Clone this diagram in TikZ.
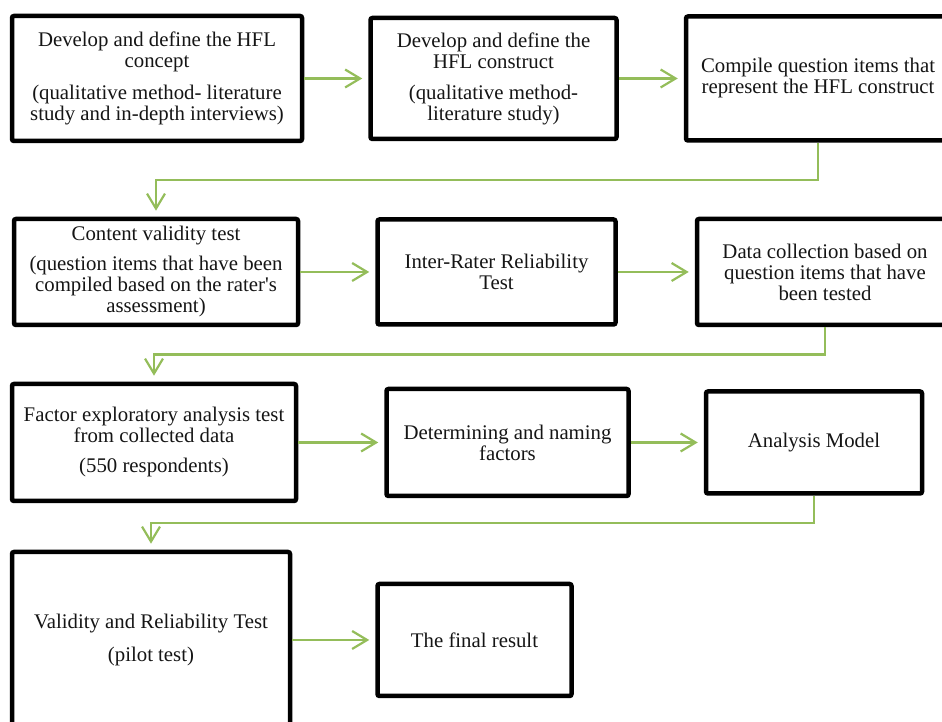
\documentclass[tikz,border=0pt]{standalone}
\usepackage{fontspec}
\setmainfont{Liberation Serif}
\usepackage{xcolor}
\definecolor{flowgreen}{HTML}{94BD5A}
\definecolor{inkblack}{HTML}{151515}
\usepackage{tikz}
\usetikzlibrary{arrows.meta, positioning, calc}

\begin{document}
\begin{tikzpicture}[x=1pt, y=1pt,
  stagebox/.style={draw=black, line width=4.5pt, rounded corners=2pt,
    fill=white, align=center, inner sep=3pt, text=inkblack,
    font=\fontsize{20.8}{21}\selectfont},
  flow/.style={->, draw=flowgreen, line width=2.2pt, shorten >=6pt},
  >={Straight Barb[length=15pt,width=18pt]}]

  \useasboundingbox (0,0) rectangle (942,722);
  \clip (0,0) rectangle (942,722);

  % row 1
  \node[stagebox, minimum width=290pt, minimum height=125pt] (concept)
    at (157,643.5)
    {Develop and define the HFL\\concept\\[11pt]
     (qualitative method- literature\\study and in-depth interviews)};

  \node[stagebox, minimum width=246pt, minimum height=121pt,
        right=64pt of concept] (construct)
    {Develop and define the\\HFL construct\\[10pt]
     (qualitative method-\\literature study)};

  \node[stagebox, minimum width=264pt, minimum height=124pt,
        right=65pt of construct] (items)
    {Compile question items that\\represent the HFL construct};

  % row 2
  \node[stagebox, minimum width=284pt, minimum height=106pt] (content)
    at (156,450)
    {Content validity test\\[9pt]
     (question items that have been\\compiled based on the rater\textquotesingle s\\assessment)};

  \node[stagebox, minimum width=238pt, minimum height=105pt,
        right=75pt of content] (interrater)
    {Inter-Rater Reliability\\Test};

  \node[stagebox, minimum width=256pt, minimum height=106pt,
        right=77pt of interrater] (collection)
    {Data collection based on\\question items that have\\been tested};

  % row 3
  \node[stagebox, minimum width=284pt, minimum height=117pt] (efa)
    at (154,279.5)
    {Factor exploratory analysis test\\from collected data\\[9pt]
     (550 respondents)};

  \node[stagebox, minimum width=242pt, minimum height=107pt,
        right=86pt of efa] (naming)
    {Determining and naming\\factors};

  \node[stagebox, minimum width=216pt, minimum height=102pt,
        right=73pt of naming] (model)
    {Analysis Model};

  % row 4
  \node[stagebox, minimum width=278pt, minimum height=176pt] (pilot)
    at (151,82)
    {Validity and Reliability Test\\[12pt](pilot test)};

  \node[stagebox, minimum width=194pt, minimum height=112pt,
        right=83pt of pilot] (final)
    {The final result};

  % connectors
  \draw[flow] (concept.east) -- (construct.west);
  \draw[flow] (construct.east) -- (items.west);
  \draw[flow] (items.south)
    -- ($(items.south)!0.5!(items.south|-content.north)$)
    -| (content.north);

  \draw[flow] (content.east) -- (interrater.west);
  \draw[flow] (interrater.east) -- (collection.west);
  \draw[flow] (collection.south)
    -- ($(collection.south)!0.5!(collection.south|-efa.north)$)
    -| (efa.north);

  \draw[flow] (efa.east) -- (naming.west);
  \draw[flow] (naming.east) -- (model.west);
  \draw[flow] (model.south)
    -- ($(model.south)!0.5!(model.south|-pilot.north)$)
    -| (pilot.north);

  \draw[flow] (pilot.east) -- (final.west);

\end{tikzpicture}
\end{document}
